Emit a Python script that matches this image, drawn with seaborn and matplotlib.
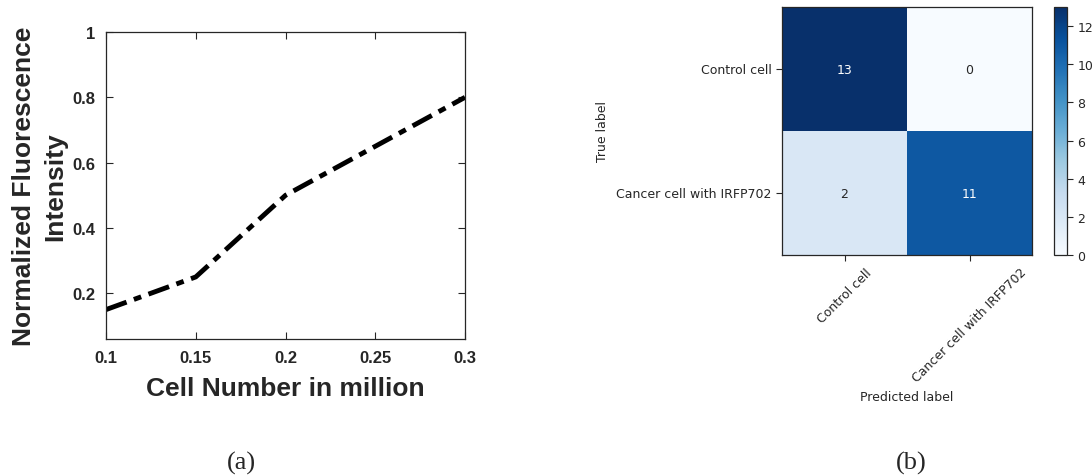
import numpy as np
import pandas as pd
import matplotlib
matplotlib.use('Agg')
import matplotlib.pyplot as plt
import seaborn as sns

# panel (a) data
cell_number = [0.1, 0.15, 0.2, 0.25, 0.3]
fluorescence = [0.15, 0.25, 0.5, 0.65, 0.8]
x_ticks = [0.1, 0.15, 0.2, 0.25, 0.3]
x_ticklabels = ['0.1', '0.15', '0.2', '0.25', '0.3']
y_ticks = [0.2, 0.4, 0.6, 0.8, 1.0]
y_ticklabels = ['0.2', '0.4', '0.6', '0.8', '1']

# panel (b) data
classes = ['Control cell', 'Cancer cell with IRFP702']
row_control = [13, 0]
row_cancer = [2, 11]
cbar_ticks = [0, 2, 4, 6, 8, 10, 12]

sns.set_style('white')
plt.rcParams['font.family'] = ['DejaVu Sans']

W, H = 1092, 477
fig = plt.figure(figsize=(W / 100, H / 100), dpi=100)

def px_axes(x0, y0, x1, y1):
    return fig.add_axes([x0 / W, 1 - y1 / H, (x1 - x0) / W, (y1 - y0) / H])

# ---- (a) line plot
ax1 = px_axes(106, 33, 465, 340)
df = pd.DataFrame({'cells': cell_number, 'intensity': fluorescence})
sns.lineplot(data=df, x='cells', y='intensity', ax=ax1, color='black',
             linewidth=3.5)
ax1.lines[0].set_dashes([4.5, 1.6, 1.6, 1.6])
ax1.set_xlim(0.1, 0.3)
ax1.set_ylim(0.06, 1.0)
ax1.set_xticks(x_ticks)
ax1.set_xticklabels(x_ticklabels)
ax1.set_yticks(y_ticks)
ax1.set_yticklabels(y_ticklabels)
arial_bold = dict(family='Liberation Sans', weight='bold')
for lab in ax1.get_xticklabels() + ax1.get_yticklabels():
    lab.set_fontfamily('Liberation Sans')
    lab.set_fontweight('bold')
    lab.set_fontsize(12)
    lab.set_color('#262626')
ax1.tick_params(direction='in', length=5, width=0.8, top=True, right=True,
                bottom=True, left=True, colors='#262626', pad=8)
for sp in ax1.spines.values():
    sp.set_visible(True)
    sp.set_color('#262626')
    sp.set_linewidth(0.9)
ax1.set_xlabel('Cell Number in million', fontsize=19, color='#262626',
               labelpad=8, **arial_bold)
ax1.set_ylabel('Normalized Fluorescence\nIntensity', fontsize=19,
               color='#262626', labelpad=3, linespacing=1.4, **arial_bold)

# ---- (b) confusion matrix
ax2 = px_axes(782, 8, 1032, 256)
cax = px_axes(1054, 8, 1067, 256)
cm = pd.DataFrame([row_control, row_cancer], index=classes, columns=classes)
sns.heatmap(cm, ax=ax2, cbar_ax=cax, cmap='Blues', vmin=0, vmax=13,
            annot=True, fmt='d', annot_kws={'fontsize': 9},
            cbar_kws={'ticks': cbar_ticks})
for sp in ax2.spines.values():
    sp.set_visible(True)
    sp.set_color('#262626')
    sp.set_linewidth(0.9)
ax2.set_xticklabels(classes, rotation=45, ha='center', fontsize=9,
                    color='#262626')
ax2.set_yticklabels(classes, rotation=0, fontsize=9, color='#262626')
ax2.tick_params(bottom=True, left=True, length=4, width=0.8,
                colors='#262626')
ax2.set_xlabel('Predicted label', fontsize=9, color='#262626', labelpad=4)
ax2.set_ylabel('True label', fontsize=9, color='#262626', labelpad=5)
cax.tick_params(labelsize=9, length=4, width=0.8, colors='#262626',
                right=True)
cbar = ax2.collections[0].colorbar
cbar.outline.set_visible(True)
cbar.outline.set_edgecolor('#262626')
cbar.outline.set_linewidth(0.9)

# captions
fig.text(241 / W, 1 - 463 / H, '(a)', family='Liberation Serif', fontsize=19,
         ha='center', va='center')
fig.text(911 / W, 1 - 463 / H, '(b)', family='Liberation Serif', fontsize=19,
         ha='center', va='center')

fig.savefig('out.png', dpi=100)
